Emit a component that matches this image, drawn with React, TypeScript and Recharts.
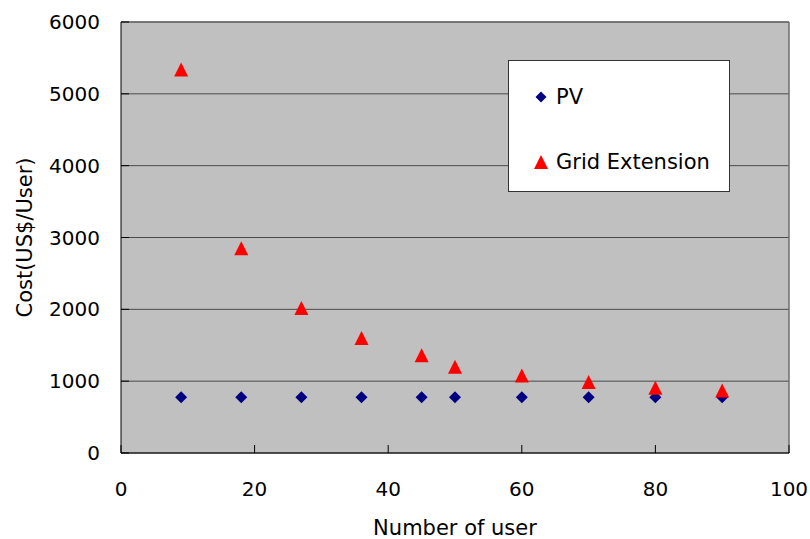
import React from 'react';
import {
  ScatterChart,
  Scatter,
  XAxis,
  YAxis,
  CartesianGrid,
  Legend,
  ReferenceLine,
} from 'recharts';

// Number of users served by each system
const users = [9, 18, 27, 36, 45, 50, 60, 70, 80, 90];
// Cost per user (US$) for solar PV home systems
const pvCost = [775, 775, 775, 775, 775, 775, 775, 775, 775, 775];
// Cost per user (US$) for extending the grid
const gridExtensionCost = [5340, 2850, 2020, 1600, 1360, 1200, 1080, 990, 910, 870];

const seriesNames = ['PV', 'Grid Extension'];
const xTicks = [0, 20, 40, 60, 80, 100];
const yTicks = [0, 1000, 2000, 3000, 4000, 5000, 6000];

const pvData = users.map((x, i) => ({ x, y: pvCost[i] }));
const gridData = users.map((x, i) => ({ x, y: gridExtensionCost[i] }));

const FONT = "'DejaVu Sans', 'Noto Sans', sans-serif";
const PV_COLOR = '#000080';
const GRID_COLOR = '#ff0000';

const Diamond = (props: any) => {
  const { cx, cy } = props;
  const r = 6;
  return (
    <polygon
      points={`${cx},${cy - r} ${cx + r},${cy} ${cx},${cy + r} ${cx - r},${cy}`}
      fill={PV_COLOR}
    />
  );
};

const Triangle = (props: any) => {
  const { cx, cy } = props;
  const h = 7;
  return (
    <polygon
      points={`${cx},${cy - h} ${cx + h},${cy + h} ${cx - h},${cy + h}`}
      fill={GRID_COLOR}
    />
  );
};

const LegendBox = (props: any) => {
  const payload = [...(props.payload || [])].sort(
    (a: any, b: any) => seriesNames.indexOf(a.value) - seriesNames.indexOf(b.value)
  );
  return (
    <div
      style={{
        width: 222,
        height: 132,
        background: '#ffffff',
        border: '1px solid #333',
        boxSizing: 'border-box',
        position: 'relative',
        fontFamily: FONT,
        fontSize: 21,
        color: '#000',
      }}
    >
      {payload.map((p: any, i: number) => (
        <div
          key={p.value}
          style={{
            position: 'absolute',
            left: 24,
            top: 22 + 65 * i,
            height: 28,
            display: 'flex',
            alignItems: 'center',
            whiteSpace: 'nowrap',
          }}
        >
          <svg width={16} height={16} style={{ display: 'block' }}>
            {p.type === 'diamond' ? (
              <polygon points="8,2.5 13.5,8 8,13.5 2.5,8" fill={PV_COLOR} />
            ) : (
              <polygon points="8,1 15,15 1,15" fill={GRID_COLOR} />
            )}
          </svg>
          <span style={{ marginLeft: 7, lineHeight: '28px' }}>{p.value}</span>
        </div>
      ))}
    </div>
  );
};

const tickStyle = { fill: '#000', fontSize: 20, fontFamily: FONT };

export default function App() {
  return (
    <div style={{ position: 'absolute', left: 0, top: 0, width: 810, height: 539, background: '#fff' }}>
      <ScatterChart
        width={810}
        height={539}
        margin={{ top: 22, right: 21, bottom: 0, left: 0 }}
      >
        <CartesianGrid
          vertical={false}
          horizontalValues={yTicks}
          fill="#c0c0c0"
          fillOpacity={1}
          stroke="#4a4a4a"
          strokeWidth={1}
        />
        <XAxis
          type="number"
          dataKey="x"
          domain={[0, 100]}
          ticks={xTicks}
          height={86}
          stroke="#000"
          tickSize={-8}
          tickMargin={37}
          tick={tickStyle}
          label={{
            value: 'Number of user',
            position: 'center',
            dy: 32,
            style: { fill: '#000', fontSize: 21, fontFamily: FONT },
          }}
        />
        <YAxis
          type="number"
          dataKey="y"
          domain={[0, 6000]}
          ticks={yTicks}
          width={121}
          stroke="#000"
          tickSize={-8}
          tickMargin={29}
          tick={tickStyle}
          label={{
            value: 'Cost(US$/User)',
            angle: -90,
            position: 'center',
            dx: -36,
            style: { fill: '#000', fontSize: 21, fontFamily: FONT, textAnchor: 'middle' },
          }}
        />
        <ReferenceLine x={100} stroke="#6e6e6e" strokeWidth={1.5} />
        <ReferenceLine y={6000} stroke="#6e6e6e" strokeWidth={1.5} />
        <Legend
          layout="vertical"
          align="center"
          verticalAlign="middle"
          content={<LegendBox />}
          wrapperStyle={{ left: 508, top: 60, width: 222, height: 132 }}
        />
        <Scatter
          name="PV"
          data={pvData}
          legendType="diamond"
          fill={PV_COLOR}
          shape={<Diamond />}
          isAnimationActive={false}
        />
        <Scatter
          name="Grid Extension"
          data={gridData}
          legendType="triangle"
          fill={GRID_COLOR}
          shape={<Triangle />}
          isAnimationActive={false}
        />
      </ScatterChart>
    </div>
  );
}
